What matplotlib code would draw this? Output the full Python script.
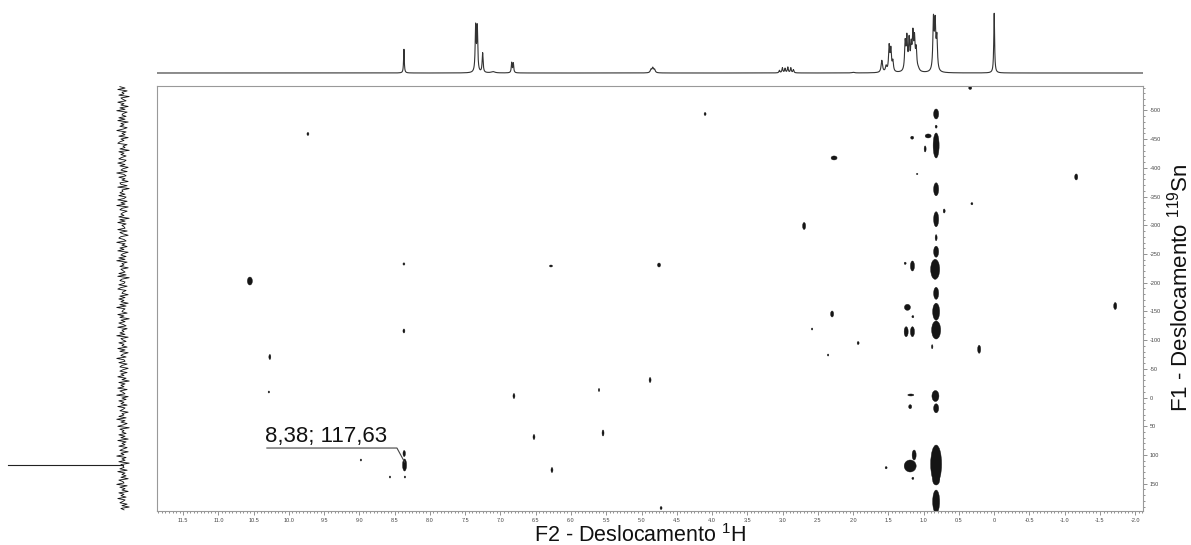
import numpy as np
import matplotlib
matplotlib.use('Agg')
import matplotlib.pyplot as plt
from matplotlib.patches import Ellipse
from matplotlib.ticker import MultipleLocator, FuncFormatter

plt.rcParams['font.family'] = ['Liberation Sans', 'DejaVu Sans']
plt.rcParams['mathtext.fontset'] = 'custom'
plt.rcParams['mathtext.rm'] = 'Liberation Sans'
plt.rcParams['mathtext.it'] = 'Liberation Sans:italic'
plt.rcParams['mathtext.bf'] = 'Liberation Sans:bold'

# ---------------- data ----------------
# 1H projection (top): line positions (ppm), heights (rel.), half widths (ppm)
h1_shift = [8.369, 7.352, 7.329, 7.253, 7.106, 6.841, 6.818,
            4.866, 4.841, 4.816,
            3.045, 3.003, 2.965, 2.926, 2.884, 2.847, 2.000,
            1.593, 1.532, 1.489, 1.465, 1.437,
            1.262, 1.238, 1.206, 1.177, 1.153, 1.130, 1.106, 1.078,
            0.861, 0.837, 0.813, 0.000]
h1_height = [0.38, 0.72, 0.70, 0.31, 0.02, 0.16, 0.15,
             0.05, 0.075, 0.05,
             0.04, 0.08, 0.07, 0.09, 0.08, 0.05, 0.01,
             0.19, 0.09, 0.40, 0.34, 0.16,
             0.44, 0.50, 0.47, 0.36, 0.54, 0.47, 0.32, 0.04,
             0.80, 0.72, 0.50, 0.95]
h1_hwhm = [0.006, 0.008, 0.008, 0.008, 0.03, 0.007, 0.007,
           0.012, 0.012, 0.012,
           0.008, 0.008, 0.008, 0.008, 0.008, 0.008, 0.02,
           0.012, 0.012, 0.010, 0.010, 0.010,
           0.010, 0.010, 0.010, 0.010, 0.010, 0.010, 0.010, 0.02,
           0.010, 0.010, 0.010, 0.007]

# 2D cross peaks: 1H shift (ppm), 119Sn shift (ppm), extent in 1H (ppm), extent in 119Sn (ppm)
cross_h = [0.823, 0.823, 0.823, 0.936, 0.823, 0.823, 0.823, 0.823, 0.837, 0.823,
           0.823, 0.823, 0.879, 0.833, 0.823, 0.823, 0.823, 0.823,
           1.163, 0.979, 1.092, 0.316, 0.709, 1.262, 1.159, 1.230, 1.153, 1.248,
           1.159, 0.213, 1.929, 1.182, 1.191, 1.191, 1.135, 1.532, 1.153,
           0.340, 4.099, 9.730, 2.270, -1.163, 2.695, 10.553, -1.716, 2.298,
           2.582, 8.369, 8.369, 6.284, 4.752, 2.355, 10.270, 10.284, 4.879,
           5.603, 6.809, 6.525, 5.546, 8.979, 8.567, 8.355, 6.270, 4.723,
           8.360, 8.365]
cross_sn = [-493.9, -471.8, -439.0, -455.6, -362.7, -310.5, -278.4, -254.0, -223.3, -181.5,
            -149.5, -117.6, -88.5, -2.6, 18.8, 115.9, 143.7, 181.2,
            -452.6, -433.0, -389.4, -337.6, -324.9, -233.8, -229.1, -157.1, -140.8, -114.6,
            -114.6, -84.0, -94.9, -4.4, 16.0, 119.3, 100.2, 122.3, 140.8,
            -539.2, -493.9, -459.1, -417.3, -384.2, -298.8, -202.9, -159.4, -145.5,
            -119.3, -232.6, -115.9, -229.1, -230.8, -74.0, -70.6, -9.6, -30.5,
            -13.1, -2.6, 68.8, 61.8, 108.9, 138.5, 138.5, 126.3, 192.5,
            117.6, 97.6]
cross_dh = [0.071, 0.028, 0.085, 0.085, 0.071, 0.071, 0.028, 0.071, 0.128, 0.071,
            0.099, 0.128, 0.021, 0.099, 0.071, 0.156, 0.099, 0.099,
            0.043, 0.028, 0.021, 0.028, 0.028, 0.028, 0.057, 0.085, 0.028, 0.057,
            0.057, 0.043, 0.028, 0.085, 0.043, 0.170, 0.057, 0.028, 0.028,
            0.043, 0.028, 0.028, 0.085, 0.043, 0.043, 0.071, 0.043, 0.043,
            0.021, 0.028, 0.028, 0.043, 0.043, 0.021, 0.028, 0.021, 0.028,
            0.021, 0.028, 0.028, 0.028, 0.021, 0.021, 0.021, 0.028, 0.028,
            0.057, 0.035]
cross_dsn = [17.4, 5.2, 43.6, 7.0, 22.6, 26.1, 10.5, 19.2, 34.8, 20.9,
             29.6, 31.4, 7.0, 19.2, 15.7, 66.2, 17.4, 40.0,
             5.2, 10.5, 2.5, 4.0, 7.0, 4.0, 17.4, 10.5, 4.0, 17.4,
             17.4, 13.9, 5.2, 3.5, 7.0, 20.9, 17.4, 4.0, 4.0,
             5.2, 5.2, 5.2, 7.0, 10.5, 12.2, 13.9, 12.2, 10.5,
             3.5, 4.0, 7.0, 3.5, 7.0, 3.5, 8.7, 3.5, 8.7,
             5.2, 8.7, 8.7, 10.5, 3.5, 3.5, 3.5, 8.7, 5.2,
             20.9, 10.5]

# 119Sn projection (left): noise trace and one signal
sn_noise = [3, -2, 5, -4, 1, -1, 4, -6, 2, 0, -3, 5, -1, 2, -5, 3, -2, 6, -4, 0, 1, -3, 4, -2, 5,
            -5, 2, -1, 3, -4, 0, 6, -3, 1, -2, 4, -5, 2, -1, 3, 5, -4, 0, -2, 3, -6, 4, -1, 2, -3,
            1, 4, -3, -1, 5, -2, 3, -5, 0, 2, -4, 6, -1, -3, 4, -2, 1, -5, 3, 2, -4, 5, -6, 1, 0,
            3, -2, 4, -3, -1, 5, -4, 2, -2, 6, -5, 1, 3, -4, 0, 2, -1, 4, -6, 3, -2, 5, -3, 1, -1,
            -2, 5, -4, 3, 0, -5, 2, 4, -1, -3, 6, -2, 1, -4, 3, -1, 5, -5, 0, 2, -3, 4, -2, 6, -4,
            1, -1, 3, -5, 2, 0, -2, 4, -3, 5, -6, 1, 3, -2, -1, 4, -4, 2, 5, -3, 0, 1, -5, 3, -2,
            4, -1, 2, -5, 3, -3, 6, -2, 0, 1, -4, 5, -1, 3, -6, 2, -2, 4, 0, -3, 5, -4, 1, -1, 3,
            -2, 6, -5, 2, 0, -3, 4, -1, 1, -4, 5, -2, 3, -5, 0, 2, -3, 6, -1, -2, 4, -4, 1, 3, -5,
            0, 3, -4, 2, -1, 5, -3, 1, -6, 4, -2, 2, -1, 5, -4, 3, 0, -2, 6, -5, 1, -3, 4, -1, 2,
            -4, 5, -2, 0, 3, -5, 1, -1, 4, -3, 6, -2, 2, -4, 0, 5, -6, 3, -1, 1, -3, 4, -2, 2, -5,
            5, -3, 1, -2, 4, -4, 0, 3, -5, 2, -1, 6, -3, 1, -2, 4, -6, 2, 0, -1, 3, -4, 5, -2, 1,
            -3, 2, -5, 4, 0, -1, 6, -4, 3, -2, 1, -5, 4, -1, 2, -3, 5, -2, 0, 3, -4, 1, -6, 2, -1]
sn_signal_shift = 117.63
sn_signal_int = 1.0

annot_text = "8,38; 117,63"

x_label = r"F2 - Deslocamento $^{1}$H"
y_label = r"F1 - Deslocamento $^{119}$Sn"

# ---------------- layout ----------------
W, H = 1191, 545
fig = plt.figure(figsize=(W / 100, H / 100), dpi=100)

L, R, T, B = 157, 1143, 85.5, 511
ax = fig.add_axes([L / W, (H - B) / H, (R - L) / W, (B - T) / H])
xlim = (11.87, -2.11)
ylim = (197.7, -543.5)
ax.set_xlim(*xlim)
ax.set_ylim(*ylim)

for x, y, dx, dy in zip(cross_h, cross_sn, cross_dh, cross_dsn):
    ax.add_patch(Ellipse((x, y), dx, dy, facecolor='#151515', edgecolor='#151515', lw=0.3))

# annotation
ax.plot([10.312, 8.468, 8.36], [88.0, 88.0, 112.4], color='#444', lw=0.8)
ax.text(10.340, 77.5, annot_text, fontsize=16, ha='left', va='baseline', color='#111')

ax.yaxis.tick_right()
ax.xaxis.set_major_locator(MultipleLocator(0.5))
ax.xaxis.set_minor_locator(MultipleLocator(0.05))
ax.yaxis.set_major_locator(MultipleLocator(50))
ax.yaxis.set_minor_locator(MultipleLocator(10))
ax.xaxis.set_major_formatter(FuncFormatter(lambda v, p: "0" if abs(v) < 1e-9 else f"{v:.1f}"))
ax.yaxis.set_major_formatter(FuncFormatter(lambda v, p: f"{int(round(v))}"))
ax.tick_params(which='both', direction='out', colors='#666', labelcolor='#444', width=0.5)
ax.tick_params(which='major', length=3, labelsize=4, pad=2)
ax.tick_params(which='minor', length=1.6)
for s in ax.spines.values():
    s.set_color('#999')
    s.set_linewidth(0.8)

fig.text(640 / W, 1 - 542 / H, x_label, fontsize=15.5, ha='center', va='baseline', color='#111')
fig.text(1180 / W, 1 - 288 / H, y_label, fontsize=16, ha='center', va='center',
         rotation=90, color='#111')

# top 1H spectrum
axt = fig.add_axes([L / W, (H - 76) / H, (R - L) / W, 68 / H])
grid = np.linspace(xlim[0], xlim[1], 9000)
spec = np.zeros_like(grid)
for c, a, g in zip(h1_shift, h1_height, h1_hwhm):
    spec += a * g ** 2 / ((grid - c) ** 2 + g ** 2)
axt.plot(grid, spec, color='#333', lw=0.8)
axt.set_xlim(*xlim)
axt.set_ylim(-0.0476, 1.032)
axt.axis('off')

# left 119Sn projection
axl = fig.add_axes([5 / W, (H - B) / H, 135 / W, (B - T) / H])
ny = np.linspace(ylim[1] + 2, ylim[0] - 2, len(sn_noise))
axl.plot(np.array(sn_noise) * 0.009, ny, color='#111', lw=0.6)
axl.plot([0, sn_signal_int], [sn_signal_shift, sn_signal_shift], color='#222', lw=0.8)
axl.set_xlim(1.026, -0.148)
axl.set_ylim(*ylim)
axl.axis('off')

fig.savefig('out.png', dpi=100)
